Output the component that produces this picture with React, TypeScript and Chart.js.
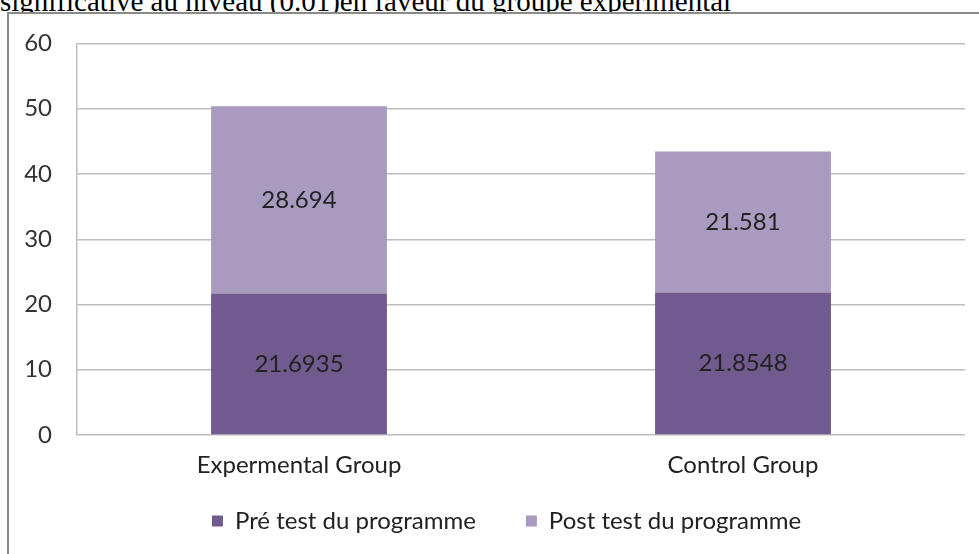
import React, { useEffect, useRef } from "react";
import { Chart, registerables } from "chart.js";

Chart.register(...registerables);

const titleText = "significative au niveau (0.01)en faveur du groupe experimental";
const categories = ["Expermental Group", "Control Group"];
const seriesNames = ["Pré test du programme", "Post test du programme"];
const preTest = [21.6935, 21.8548];
const postTest = [28.694, 21.581];
const yMin = 0;
const yMax = 60;
const yStep = 10;

const FONT = "Lato, 'Noto Sans', sans-serif";
const FS = 24;
const DARK = "#705A8E";
const LIGHT = "#A99BC0";
const TEXT = "#222222";
const GRID = "#BDBDBD";

const barLabels = {
  id: "barLabels",
  afterDatasetsDraw(chart: any) {
    const ctx = chart.ctx;
    ctx.save();
    ctx.font = `${FS}px ${FONT}`;
    ctx.fillStyle = TEXT;
    ctx.textAlign = "center";
    ctx.textBaseline = "middle";
    chart.data.datasets.forEach((ds: any, i: number) => {
      const meta = chart.getDatasetMeta(i);
      meta.data.forEach((bar: any, j: number) => {
        const p = bar.getProps(["x", "y", "base"], true);
        ctx.fillText(String(ds.data[j]), p.x, (p.y + p.base) / 2);
      });
    });
    ctx.restore();
  },
};

// nudges the legend row to where the original places it
const legendShift = {
  id: "legendShift",
  afterLayout(chart: any) {
    const lg = chart.legend;
    if (!lg) return;
    const dx = 13;
    const dy = -20;
    lg.left += dx;
    lg.right += dx;
    lg.top += dy;
    lg.bottom += dy;
  },
};

export default function App() {
  const ref = useRef<HTMLCanvasElement | null>(null);

  useEffect(() => {
    document.documentElement.style.overflow = "hidden";
    const canvas = ref.current;
    if (!canvas) return;
    const chart = new Chart(canvas, {
      type: "bar",
      data: {
        labels: categories,
        datasets: [
          { label: seriesNames[0], data: preTest, backgroundColor: DARK, borderWidth: 0 },
          { label: seriesNames[1], data: postTest, backgroundColor: LIGHT, borderWidth: 0 },
        ],
      },
      options: {
        responsive: false,
        animation: false,
        events: [],
        datasets: { bar: { categoryPercentage: 1, barPercentage: 0.396 } },
        layout: { padding: { left: 12, right: 14, top: 29.5, bottom: 0 } },
        plugins: {
          title: { display: false },
          tooltip: { enabled: false },
          legend: {
            position: "bottom",
            align: "center",
            maxHeight: 75,
            labels: {
              boxWidth: 11,
              boxHeight: 11,
              padding: 50,
              color: TEXT,
              font: { family: FONT, size: FS },
            },
          },
        },
        scales: {
          x: {
            stacked: true,
            grid: { display: false, drawTicks: false },
            border: { display: false },
            ticks: { color: TEXT, font: { family: FONT, size: FS }, padding: 15.6, maxRotation: 0 },
            afterFit: (s: any) => {
              s.height = 44;
            },
          },
          y: {
            stacked: true,
            min: yMin,
            max: yMax,
            grid: {
              color: GRID,
              lineWidth: 1.5,
              drawTicks: true,
              tickLength: 12,
              tickColor: "rgba(0,0,0,0)",
            },
            border: { display: true, color: GRID, width: 1.5 },
            ticks: {
              stepSize: yStep,
              color: "#333333",
              font: { family: FONT, size: FS, lineHeight: 1 },
              padding: 13,
            },
            afterFit: (s: any) => {
              s.width = 55;
            },
          },
        },
      } as any,
      plugins: [barLabels, legendShift],
    });
    return () => chart.destroy();
  }, []);

  return (
    <div>
      <div
        style={{
          position: "absolute",
          left: 0,
          top: -13,
          fontFamily: "'Liberation Serif', 'Times New Roman', serif",
          fontSize: 29,
          lineHeight: 1,
          color: "#000",
          whiteSpace: "nowrap",
        }}
      >
        {titleText}
      </div>
      <div
        style={{
          position: "absolute",
          left: 7,
          top: 12,
          width: 972,
          height: 542,
          borderTop: "2px solid #8a8a8a",
          borderLeft: "2px solid #8a8a8a",
          boxSizing: "border-box",
          background: "#fff",
        }}
      />
      <canvas
        ref={ref}
        width={969}
        height={540}
        style={{ position: "absolute", left: 10, top: 14, display: "block" }}
      />
    </div>
  );
}
